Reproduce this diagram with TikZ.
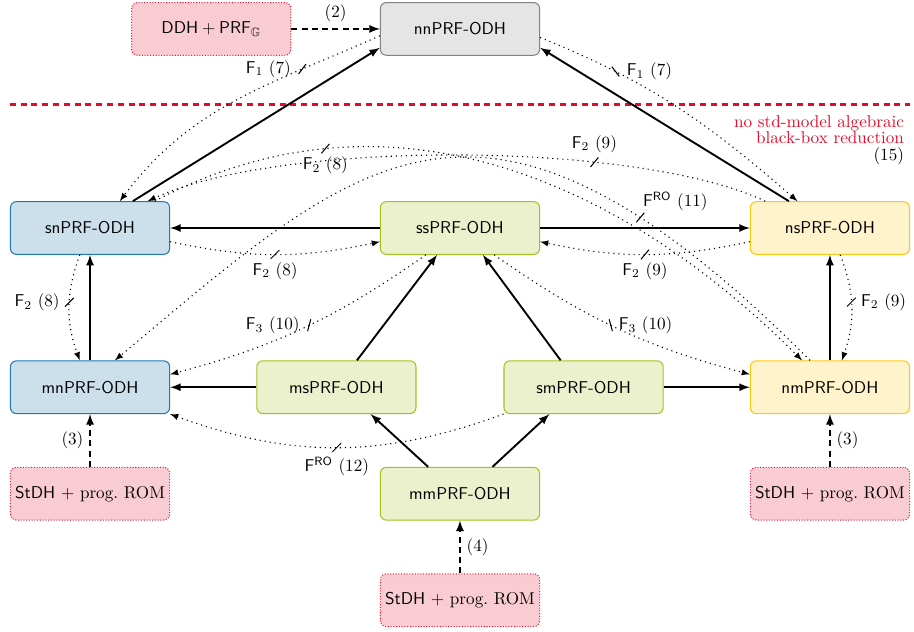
\documentclass[tikz,border=0pt]{standalone}
\usepackage{amsmath, amssymb}
\usetikzlibrary{positioning}
\usetikzlibrary{arrows}
\usetikzlibrary{decorations.markings}

\definecolor{nngray}{RGB}{229,229,229}
\definecolor{nnborder}{RGB}{130,130,130}
\definecolor{snblue}{RGB}{204,224,235}
\definecolor{snborder}{RGB}{31,120,180}
\definecolor{ssgreen}{RGB}{235,241,204}
\definecolor{ssborder}{RGB}{160,196,30}
\definecolor{nsyellow}{RGB}{255,243,204}
\definecolor{nsborder}{RGB}{250,200,20}
\definecolor{asspink}{RGB}{249,203,210}
\definecolor{assred}{RGB}{230,20,50}
\definecolor{sepred}{RGB}{230,10,40}

\tikzset{
box/.style={ % Common shape of every assumption box
rectangle, rounded corners=3.5pt, semithick,
minimum width=93pt, minimum height=30.8pt,
font=\sffamily},
nnbox/.style={box, fill=nngray, draw=nnborder},
snbox/.style={box, fill=snblue, draw=snborder},
ssbox/.style={box, fill=ssgreen, draw=ssborder},
nsbox/.style={box, fill=nsyellow, draw=nsborder},
assbox/.style={box, fill=asspink, draw=assred, densely dotted, font=\rmfamily, inner xsep=2pt},
impl/.style={-latex, line width=1.1pt}, % Implications
stdimpl/.style={impl, dash pattern=on 3.5pt off 2.5pt}, % From standard assumptions
nimp/.style n args={5}{ % Separations: position, slash angle, label placement, name, label
line width=0.65pt, dash pattern=on 0.65pt off 2.3pt, -latex,
postaction={decorate, decoration={markings,
mark=at position #1 with {\pgftransformresetnontranslations
\draw[solid, -, semithick] (#2:3.6pt) -- (#2+180:3.6pt);
\node[#3] (#4) {#5};}}}},
sepline/.style={sepred, line width=1.6pt, dash pattern=on 3.5pt off 2.8pt},
septext/.style={text=sepred, align=right}
}

\begin{document}
\begin{tikzpicture}
\node[nnbox] (nn) {nnPRF-ODH};
\node[assbox, left=51.7pt of nn] (ddh) {$\textsf{DDH} + \textsf{PRF}_{\mathbb{G}}$};
\node[ssbox, below=84.9pt of nn] (ss) {ssPRF-ODH};
\node[snbox, left=122.5pt of ss] (sn) {snPRF-ODH};
\node[nsbox, right=122.5pt of ss] (ns) {nsPRF-ODH};
\node[snbox, below=61.6pt of sn] (mn) {mnPRF-ODH};
\node[nsbox, below=61.6pt of ns] (nm) {nmPRF-ODH};
\node[ssbox, right=50.3pt of mn] (ms) {msPRF-ODH};
\node[ssbox, left=50.3pt of nm] (sm) {smPRF-ODH};
\node[assbox, below=30.8pt of mn] (st1) {\textsf{StDH} $+$ prog.\ ROM};
\node[assbox, below=30.8pt of nm] (st2) {\textsf{StDH} $+$ prog.\ ROM};
\node[ssbox, right=122.5pt of st1] (mm) {mmPRF-ODH};
\node[assbox, below=30.8pt of mm] (st3) {\textsf{StDH} $+$ prog.\ ROM};

\path (sn.west |- nn.north) ++(-5.8pt,1.2pt) coordinate (bbnw);
\path (ns.east |- st3.south) ++(2.3pt,-2.3pt) coordinate (bbse);
\useasboundingbox (bbnw) rectangle (bbse);

\coordinate[below=28.5pt of nn.south] (sep);
\coordinate (sepw) at (sn.west |- sep);
\coordinate (sepe) at (ns.east |- sep);
\draw[sepline] (sepw) -- (sepe);
\node[septext, below left=3pt and 0pt of sepe] (nobb) {no std-model algebraic\\[-2.5pt]black-box reduction\\[-2.5pt]{\color{black}(15)}};

\draw[stdimpl] (ddh) -- node[above] (n2) {(2)} (nn);
\draw[stdimpl] (st1) -- node[left] (n3a) {(3)} (mn);
\draw[stdimpl] (st2) -- node[right] (n3b) {(3)} (nm);
\draw[stdimpl] (st3) -- node[right] (n4) {(4)} (mm);

\draw[impl] ([xshift=25pt]sn.north) -- ([yshift=-11pt]nn.west);
\draw[impl] ([xshift=-24pt]ns.north) -- ([yshift=-11pt]nn.east);
\draw[impl] (ss) -- (sn);
\draw[impl] (ss) -- (ns);
\draw[impl] (mn) -- (sn);
\draw[impl] (nm) -- (ns);
\draw[impl] (ms) -- (mn);
\draw[impl] (sm) -- (nm);
\draw[impl] ([xshift=12pt]ms.north) -- ([xshift=-13.4pt]ss.south);
\draw[impl] ([xshift=-13.4pt]sm.north) -- ([xshift=13.4pt]ss.south);
\draw[impl] ([xshift=-18.6pt]mm.north) -- ([xshift=20pt]ms.south);
\draw[impl] ([xshift=19pt]mm.north) -- ([xshift=-20pt]sm.south);

\draw[nimp={.27}{53}{left=3pt}{f1a}{$\mathsf{F}_1$ (7)}] ([yshift=-4pt]nn.west) to[out=204,in=53] ([xshift=17.4pt]sn.north);
\draw[nimp={.27}{-53}{right=3pt}{f1b}{$\mathsf{F}_1$ (7)}] ([yshift=-5pt]nn.east) to[out=-22,in=139] ([xshift=-19pt]ns.north);
\draw[nimp={.5}{45}{below=1pt}{f2a}{$\mathsf{F}_2$ (8)}] ([yshift=-8pt]sn.east) to[bend right=12] ([yshift=-8pt]ss.west);
\draw[nimp={.5}{50}{below=1pt}{f2b}{$\mathsf{F}_2$ (9)}] ([yshift=-8pt]ns.west) to[bend left=12] ([yshift=-8pt]ss.east);
\draw[nimp={.45}{45}{left=2pt}{f2c}{$\mathsf{F}_2$ (8)}] ([xshift=-6pt]sn.south) to[bend right=20] ([xshift=-6pt]mn.north);
\draw[nimp={.45}{45}{right=2pt}{f2d}{$\mathsf{F}_2$ (9)}] ([xshift=6pt]ns.south) to[bend left=20] ([xshift=7pt]nm.north);
\draw[nimp={.25}{50}{below=1pt}{f2e}{$\mathsf{F}_2$ (8)}] ([xshift=37.8pt]sn.north) to[out=28,in=135] ([xshift=-16.3pt]nm.north);
\draw[nimp={.28}{50}{above=2pt}{f2f}{$\mathsf{F}_2$ (9)}] ([xshift=-37.8pt]ns.north) to[out=155,in=25,looseness=0.6] ([xshift=33.7pt]sn.north);
\draw[nimp={.27}{50}{above right=0pt and -2pt}{fro11}{$\mathsf{F}^{\mathsf{RO}}$ (11)}] ([xshift=-11.6pt]nm.north) to[out=135,in=40,out looseness=1.7,in looseness=1.2] ([xshift=14.5pt]mn.north);
\draw[nimp={.48}{75}{left=2pt}{f3a}{$\mathsf{F}_3$ (10)}] ([xshift=-20pt]ss.south) to[out=215,in=15] ([yshift=7.5pt]mn.east);
\draw[nimp={.48}{-75}{right=1pt}{f3b}{$\mathsf{F}_3$ (10)}] ([xshift=20pt]ss.south) to[out=-35,in=165] ([yshift=7.5pt]nm.west);
\draw[nimp={.5}{45}{below=2pt}{fro12}{$\mathsf{F}^{\mathsf{RO}}$ (12)}] (sm.south west) to[bend left=20] (mn.south east);
\end{tikzpicture}
\end{document}
